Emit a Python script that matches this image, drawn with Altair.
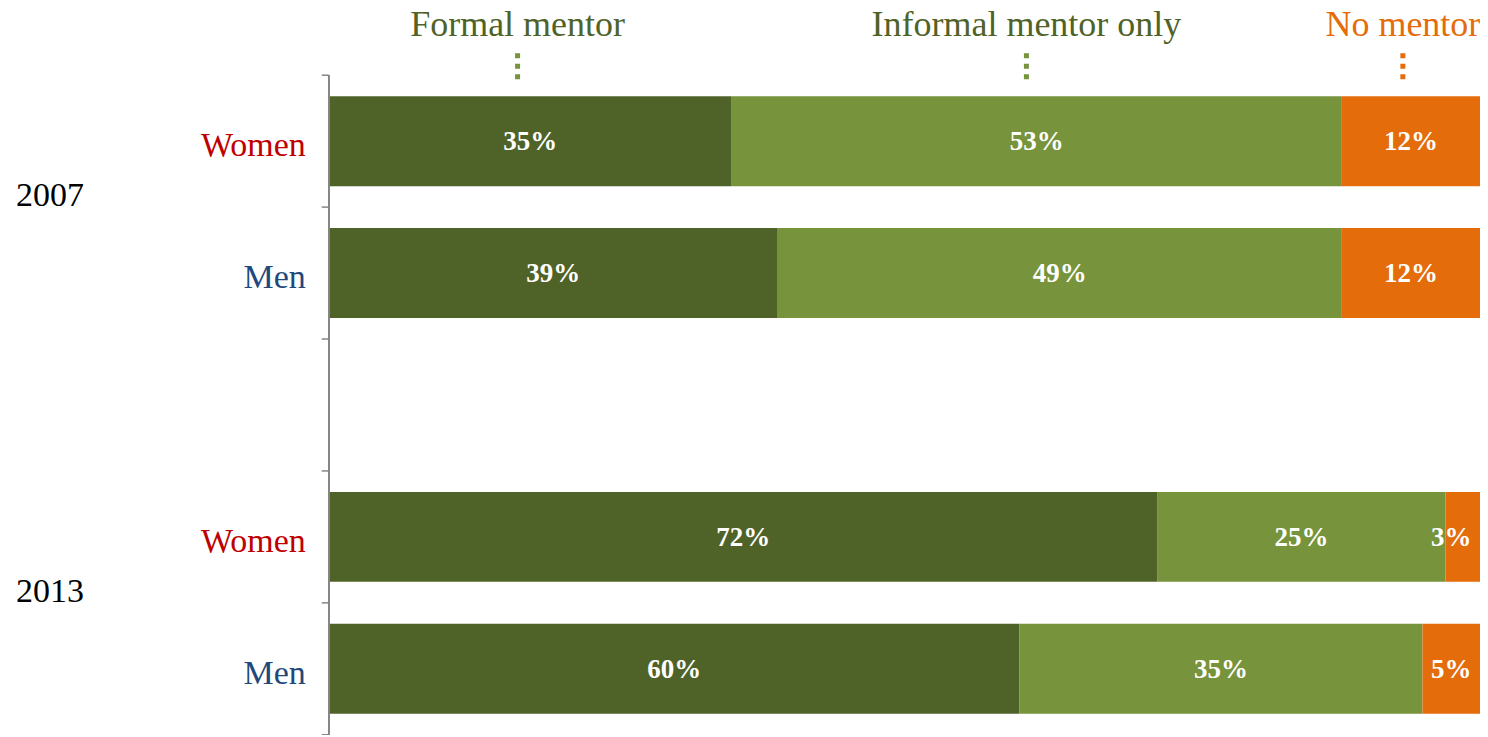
import altair as alt
import pandas as pd

years = ["2007", "2007", "2013", "2013"]
genders = ["Women", "Men", "Women", "Men"]
formal = [35, 39, 72, 60]
informal = [53, 49, 25, 35]
no_mentor = [12, 12, 3, 5]

categories = ["Formal mentor", "Informal mentor only", "No mentor"]
cat_colors = ["#4F6228", "#77933C", "#E46C0A"]
header_colors = ["#4F6228", "#4F6228", "#E46C0A"]
dot_colors = ["#77933C", "#77933C", "#E46C0A"]
header_pos = [16.4, 60.6, 93.3]

gender_colors = ["#C00000", "#1F497D"]

ykeys = ["2007 Women", "2007 Men", "gap", "2013 Women", "2013 Men"]

rows = []
for i in range(len(years)):
    key = years[i] + " " + genders[i]
    for j, vals in enumerate([formal, informal, no_mentor]):
        rows.append({"key": key, "cat": categories[j], "ord": j, "value": vals[i],
                     "label": f"{vals[i]}%"})
df = pd.DataFrame(rows)

rowlab = pd.DataFrame({"key": [y + " " + g for y, g in zip(years, genders)], "gender": genders})
ticks = pd.DataFrame({"key": ykeys})
hdr = pd.DataFrame({"name": categories, "pos": header_pos})
yrs = pd.DataFrame({"year": ["2007", "2013"], "key": ["2007 Men", "2013 Men"]})

SERIF = "Liberation Serif"
AXIS_GRAY = "#868686"
xscale = alt.Scale(domain=[0, 100], nice=False, zero=True)
yscale = alt.Scale(domain=ykeys, paddingInner=0, paddingOuter=0)

bars = alt.Chart(df).mark_bar(height={"band": 0.682}).encode(
    y=alt.Y("key:N", scale=yscale, axis=None),
    x=alt.X("value:Q", stack="zero", scale=xscale, axis=None),
    color=alt.Color("cat:N", scale=alt.Scale(domain=categories, range=cat_colors), legend=None),
    order=alt.Order("ord:Q"),
)

# labels centred in their segment, kept inside the plot area like the original
labels = alt.Chart(df).transform_stack(
    stack="value", as_=["x0", "x1"], groupby=["key"], sort=[alt.SortField("ord")]
).transform_calculate(mid="min((datum.x0 + datum.x1) / 2, 97.5)").mark_text(
    font=SERIF, fontSize=27, fontWeight="bold", color="white", baseline="middle", dy=1
).encode(
    y=alt.Y("key:N", scale=yscale, axis=None),
    x=alt.X("mid:Q", scale=xscale, axis=None),
    text="label:N",
)

domain_line = alt.Chart(ticks).mark_rule(color=AXIS_GRAY, strokeWidth=1.5).encode(
    x=alt.value(0),
    y=alt.value(0),
    y2=alt.value(660),
)

tick_marks = alt.Chart(ticks).mark_rule(color=AXIS_GRAY, strokeWidth=1.5).encode(
    y=alt.Y("key:N", scale=yscale, bandPosition=0, axis=None),
    x=alt.value(-7),
    x2=alt.value(0),
)

last_tick = alt.Chart(ticks.tail(1)).mark_rule(color=AXIS_GRAY, strokeWidth=1.5).encode(
    y=alt.Y("key:N", scale=yscale, bandPosition=1, axis=None),
    x=alt.value(-7),
    x2=alt.value(0),
)

row_labels = alt.Chart(rowlab).mark_text(font=SERIF, fontSize=34, align="right",
                                         baseline="alphabetic", dy=15).encode(
    y=alt.Y("key:N", scale=yscale, axis=None),
    x=alt.value(-23),
    text="gender:N",
    color=alt.Color("gender:N", scale=alt.Scale(domain=["Women", "Men"], range=gender_colors), legend=None),
)

headers = alt.Chart(hdr).mark_text(font=SERIF, fontSize=36, baseline="alphabetic", align="center").encode(
    x=alt.X("pos:Q", scale=xscale, axis=None),
    y=alt.value(-39),
    text="name:N",
    color=alt.Color("name:N", scale=alt.Scale(domain=categories, range=header_colors), legend=None),
)

dots = alt.Chart(hdr).mark_rule(strokeWidth=5, strokeDash=[5, 5.5]).encode(
    x=alt.X("pos:Q", scale=xscale, axis=None),
    y=alt.value(-22),
    y2=alt.value(4),
    color=alt.Color("name:N", scale=alt.Scale(domain=categories, range=dot_colors), legend=None),
)

year_text = alt.Chart(yrs).mark_text(font=SERIF, fontSize=34, align="left", baseline="alphabetic",
                                     color="black", dy=-1).encode(
    y=alt.Y("key:N", scale=yscale, bandPosition=0, axis=None),
    x=alt.value(-313),
    text="year:N",
)

chart = alt.layer(bars, labels, domain_line, tick_marks, last_tick, row_labels,
                  headers, dots, year_text).resolve_scale(
    color="independent"
).properties(
    width=1152, height=660,
    autosize=alt.AutoSizeParams(type="none"),
    padding={"left": 321, "top": 67, "right": 0, "bottom": 0},
).configure_view(strokeWidth=0)

chart.save("out.html", embed_options={"renderer": "svg", "actions": False})
